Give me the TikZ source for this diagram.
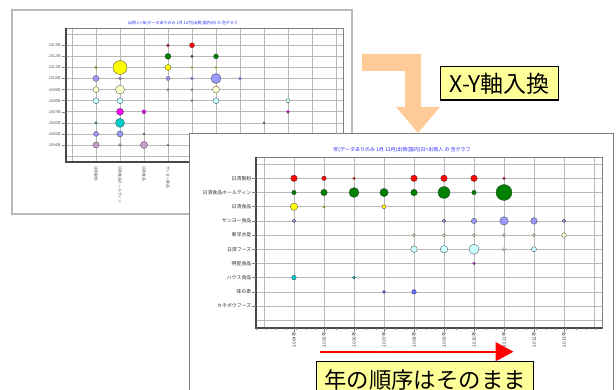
\documentclass[tikz,border=0pt]{standalone}
\usepackage{fontspec}
\setmainfont{Noto Sans CJK JP}
\usepackage{tikz}
\usetikzlibrary{arrows.meta}

\definecolor{bubred}{RGB}{255,0,0}
\definecolor{bubgreen}{RGB}{0,128,0}
\definecolor{bubyellow}{RGB}{255,255,0}
\definecolor{bubperi}{RGB}{153,153,255}
\definecolor{bubcream}{RGB}{255,255,204}
\definecolor{bubcyan}{RGB}{204,255,255}
\definecolor{bubmag}{RGB}{255,0,255}
\definecolor{bubteal}{RGB}{0,204,204}
\definecolor{bubblue}{RGB}{102,102,255}
\definecolor{bubmauve}{RGB}{204,153,204}
\definecolor{arrorange}{RGB}{255,204,153}
\definecolor{noteyellow}{RGB}{255,255,153}
\definecolor{titleblue}{RGB}{40,40,255}
\definecolor{axisgray}{RGB}{72,72,72}
\definecolor{gridgray}{RGB}{185,185,185}

\tikzset{
  bubble/.style={circle, draw=black!75, line width=0.3pt, inner sep=0pt},
  gridline/.style={gridgray, line width=0.6pt},
  axisline/.style={axisgray, line width=1.3pt},
  charttitle/.style={text=titleblue, inner sep=0pt},
  ylab/.style={anchor=east, inner sep=0pt, text=black!80, font=\fontsize{4.9}{5}\selectfont},
  xlab/.style={anchor=east, rotate=90, inner sep=0pt, text=black!75, font=\fontsize{4.6}{5}\selectfont},
  backylab/.style={anchor=east, inner sep=0pt, text=black!70, font=\fontsize{3.7}{4}\selectfont},
  backxlab/.style={anchor=west, rotate=-90, inner sep=0pt, text=black!70, font=\fontsize{3.7}{4}\selectfont},
  notebox/.style={draw=black, line width=1.2pt, fill=noteyellow, inner sep=0pt}
}

\begin{document}
\begin{tikzpicture}[x=1pt, y=-1pt]
        \useasboundingbox (0,0) rectangle (616,390);
        \clip (0,0) rectangle (616,390);

        % Chart before (years on y)
        \draw[gridgray, line width=1.2pt, fill=white] (12,10) rectangle (352,214);
        \node[charttitle, font=\fontsize{4}{4}\selectfont] (backtitle) at (183,23) {出荷人>年(データありのみ 1月~12月)出荷(国内)日 の 泡グラフ};
        \foreach \k in {0,...,11}
            \draw[gridline] (66,{34.2+11.08*\k}) -- (343,{34.2+11.08*\k});
        \foreach \x in {72,96,...,336}
            \draw[gridline] (\x,28) -- (\x,162);
        \draw[gray, line width=0.6pt] (66,28) rectangle (343,162);
        \draw[axisline] (66,28) -- (66,162) -- (343,162);
        \foreach \yr [count=\k from 0] in {2013,2012,2011,2010,2009,2008,2007,2006,2005,2004} {
            \draw[gray] (62,{45.3+11.08*\k}) -- (66,{45.3+11.08*\k});
            \node[backylab] (by\yr) at (61,{45.3+11.08*\k}) {{\yr}年};
        }
        \foreach \co [count=\k from 0] in {日清製粉,日清食品ホールディン,日清食品,サンヨー食品,東洋水産,日清フーズ,明星食品,ハウス食品,味の素,カネボウフーズ}
            \node[backxlab] (bx\k) at ({96+24*\k},166) {\co};

        \node[bubble, fill=bubred, minimum size=3pt] (q13a) at (168,45.3) {};
        \node[bubble, fill=bubred, minimum size=5pt] (q13b) at (192,45.3) {};
        \node[bubble, fill=bubgreen, minimum size=6pt] (q12a) at (168,56.4) {};
        \node[bubble, fill=bubgreen, minimum size=2.4pt] (q12b) at (192,56.4) {};
        \node[bubble, fill=bubgreen, minimum size=5pt] (q12c) at (216,56.4) {};
        \node[bubble, fill=bubyellow, minimum size=2.4pt] (q11a) at (96,67.5) {};
        \node[bubble, fill=bubyellow, minimum size=14pt] (q11b) at (120,67.5) {};
        \node[bubble, fill=bubyellow, minimum size=6pt] (q11c) at (168,67.5) {};
        \node[bubble, fill=bubyellow, minimum size=2pt] (q11d) at (192,67.5) {};
        \node[bubble, fill=bubyellow, minimum size=2pt] (q11e) at (216,67.5) {};
        \node[bubble, fill=bubperi, minimum size=6pt] (q10a) at (96,78.5) {};
        \node[bubble, fill=bubperi, minimum size=3pt] (q10b) at (120,78.5) {};
        \node[bubble, fill=bubperi, minimum size=4pt] (q10c) at (168,78.5) {};
        \node[bubble, fill=bubperi, minimum size=3pt] (q10d) at (192,78.5) {};
        \node[bubble, fill=bubperi, minimum size=10pt] (q10e) at (216,78.5) {};
        \node[bubble, fill=bubperi, minimum size=3pt] (q10f) at (240,78.5) {};
        \node[bubble, fill=bubcream, minimum size=6pt] (q09a) at (96,89.6) {};
        \node[bubble, fill=bubcream, minimum size=9pt] (q09b) at (120,89.6) {};
        \node[bubble, fill=bubcream, minimum size=2pt] (q09c) at (168,89.6) {};
        \node[bubble, fill=bubcream, minimum size=2pt] (q09d) at (192,89.6) {};
        \node[bubble, fill=bubcream, minimum size=7pt] (q09e) at (216,89.6) {};
        \node[bubble, fill=bubcyan, minimum size=6pt] (q08a) at (96,100.7) {};
        \node[bubble, fill=bubcyan, minimum size=6pt] (q08b) at (120,100.7) {};
        \node[bubble, fill=bubcyan, minimum size=2pt] (q08c) at (192,100.7) {};
        \node[bubble, fill=bubcyan, minimum size=6pt] (q08d) at (216,100.7) {};
        \node[bubble, fill=bubcyan, minimum size=4pt] (q08e) at (288,100.7) {};
        \node[bubble, fill=bubmag, minimum size=7pt] (q07a) at (120,111.8) {};
        \node[bubble, fill=bubmag, minimum size=4pt] (q07b) at (144,111.8) {};
        \node[bubble, fill=bubmag, minimum size=3pt] (q07c) at (288,111.8) {};
        \node[bubble, fill=bubteal, minimum size=2.4pt] (q06a) at (96,122.9) {};
        \node[bubble, fill=bubteal, minimum size=9pt] (q06b) at (120,122.9) {};
        \node[bubble, fill=bubteal, minimum size=2pt] (q06c) at (264,122.9) {};
        \node[bubble, fill=bubperi, minimum size=5pt] (q05a) at (96,133.9) {};
        \node[bubble, fill=bubperi, minimum size=6pt] (q05b) at (120,133.9) {};
        \node[bubble, fill=bubperi, minimum size=2pt] (q05c) at (144,133.9) {};
        \node[bubble, fill=bubmauve, minimum size=6pt] (q04a) at (96,145) {};
        \node[bubble, fill=bubmauve, minimum size=3pt] (q04b) at (120,145) {};
        \node[bubble, fill=bubmauve, minimum size=7pt] (q04c) at (144,145) {};
        \node[bubble, fill=bubmauve, minimum size=2pt] (q04d) at (168,145) {};

        % Bent arrow
        \fill[arrorange] (362,54) -- (421,54) -- (421,107) -- (440,107) -- (418,133) -- (396,107) -- (405,107) -- (405,71) -- (362,71) -- cycle;
        \node[notebox, minimum width=117.6pt, minimum height=33.3pt, font=\fontsize{23}{23}\selectfont] (swap) at (499.5,83.3) {X-Y軸入換};

        % Chart after (years on x)
        \draw[gray, line width=0.8pt, fill=white] (189,133) rectangle (613,400);
        \node[charttitle, font=\fontsize{5}{5}\selectfont] (fronttitle) at (402,150) {年(データありのみ 1月~12月)出荷(国内)日>出荷人 の 泡グラフ};
        \foreach \x in {264,294,...,594}
            \draw[gridline] (\x,157) -- (\x,328);
        \foreach \k in {0,...,11}
            \draw[gridline] (256,{164.1+14.19*\k}) -- (602,{164.1+14.19*\k});
        \draw[gray, line width=0.6pt] (256,157) rectangle (602,328);
        \draw[axisline] (256,157) -- (256,328) -- (602,328);
        \foreach \co [count=\k from 0] in {日清製粉,日清食品ホールディン,日清食品,サンヨー食品,東洋水産,日清フーズ,明星食品,ハウス食品,味の素,カネボウフーズ} {
            \draw[gray] (252,{178.3+14.19*\k}) -- (256,{178.3+14.19*\k});
            \node[ylab] (fy\k) at (251.5,{178.3+14.19*\k}) {\co};
        }
        \foreach \x in {256,266,...,602}
            \draw[gray, line width=0.4pt] (\x,328) -- (\x,330);
        \foreach \yr [count=\k from 0] in {2004,2005,2006,2007,2008,2009,2010,2011,2012,2013} {
            \draw[gray] ({294+30*\k},328) -- ({294+30*\k},332);
            \node[xlab] (fx\yr) at ({294+30*\k},332) {{\yr}年};
        }

        \node[bubble, fill=bubred, minimum size=6.6pt] (a04) at (294,178.3) {};
        \node[bubble, fill=bubred, minimum size=4.6pt] (a05) at (324,178.3) {};
        \node[bubble, fill=bubred, minimum size=2.6pt] (a06) at (354,178.3) {};
        \node[bubble, fill=bubred, minimum size=6.6pt] (a08) at (414,178.3) {};
        \node[bubble, fill=bubred, minimum size=6.6pt] (a09) at (444,178.3) {};
        \node[bubble, fill=bubred, minimum size=6.6pt] (a10) at (474,178.3) {};
        \node[bubble, fill=bubred, minimum size=2.6pt] (a11) at (504,178.3) {};
        \node[bubble, fill=bubgreen, minimum size=4.6pt] (b04) at (294,192.5) {};
        \node[bubble, fill=bubgreen, minimum size=6.6pt] (b05) at (324,192.5) {};
        \node[bubble, fill=bubgreen, minimum size=10pt] (b06) at (354,192.5) {};
        \node[bubble, fill=bubgreen, minimum size=8.4pt] (b07) at (384,192.5) {};
        \node[bubble, fill=bubgreen, minimum size=6.6pt] (b08) at (414,192.5) {};
        \node[bubble, fill=bubgreen, minimum size=12pt] (b09) at (444,192.5) {};
        \node[bubble, fill=bubgreen, minimum size=4.6pt] (b10) at (474,192.5) {};
        \node[bubble, fill=bubgreen, minimum size=16pt] (b11) at (504,192.5) {};
        \node[bubble, fill=bubyellow, minimum size=7.4pt] (c04) at (294,206.7) {};
        \node[bubble, fill=bubyellow, minimum size=2.4pt] (c05) at (324,206.7) {};
        \node[bubble, fill=bubyellow, minimum size=4pt] (c07) at (384,206.7) {};
        \node[bubble, fill=bubperi, minimum size=3.4pt] (d04) at (294,220.9) {};
        \node[bubble, fill=bubperi, minimum size=3.4pt] (d09) at (444,220.9) {};
        \node[bubble, fill=bubperi, minimum size=5.4pt] (d10) at (474,220.9) {};
        \node[bubble, fill=bubperi, minimum size=8.4pt] (d11) at (504,220.9) {};
        \node[bubble, fill=bubperi, minimum size=6.6pt] (d12) at (534,220.9) {};
        \node[bubble, fill=bubperi, minimum size=3.4pt] (d13) at (564,220.9) {};
        \node[bubble, fill=bubcream, minimum size=3pt] (e08) at (414,235.1) {};
        \node[bubble, fill=bubcream, minimum size=3pt] (e09) at (444,235.1) {};
        \node[bubble, fill=bubcream, minimum size=3pt] (e10) at (474,235.1) {};
        \node[bubble, fill=bubcream, minimum size=3pt] (e11) at (504,235.1) {};
        \node[bubble, fill=bubcream, minimum size=3pt] (e12) at (534,235.1) {};
        \node[bubble, fill=bubcream, minimum size=4.6pt] (e13) at (564,235.1) {};
        \node[bubble, fill=bubcyan, minimum size=6.6pt] (f08) at (414,249.2) {};
        \node[bubble, fill=bubcyan, minimum size=7.4pt] (f09) at (444,249.2) {};
        \node[bubble, fill=bubcyan, minimum size=10pt] (f10) at (474,249.2) {};
        \node[bubble, fill=bubcyan, minimum size=3.4pt] (f11) at (504,249.2) {};
        \node[bubble, fill=bubcyan, minimum size=5pt] (f12) at (534,249.2) {};
        \node[bubble, fill=bubmag, minimum size=2.6pt] (g10) at (474,263.4) {};
        \node[bubble, fill=bubteal, minimum size=4.6pt] (h04) at (294,277.6) {};
        \node[bubble, fill=bubteal, minimum size=3pt] (h06) at (354,277.6) {};
        \node[bubble, fill=bubblue, minimum size=3pt] (i07) at (384,291.8) {};
        \node[bubble, fill=bubblue, minimum size=4.6pt] (i08) at (414,291.8) {};

        % Year order arrow
        \coordinate (ordstart) at (320,351.7);
        \coordinate (ordend) at (513.5,351.7);
        \draw[bubred, line width=1.7pt, -{Triangle[length=18pt, width=19pt]}] (ordstart) -- (ordend);
        \node[notebox, minimum width=216.6pt, minimum height=36pt, font=\fontsize{22.4}{23}\selectfont] (keep) at (425,379.7) {年の順序はそのまま};
    \end{tikzpicture}
\end{document}
